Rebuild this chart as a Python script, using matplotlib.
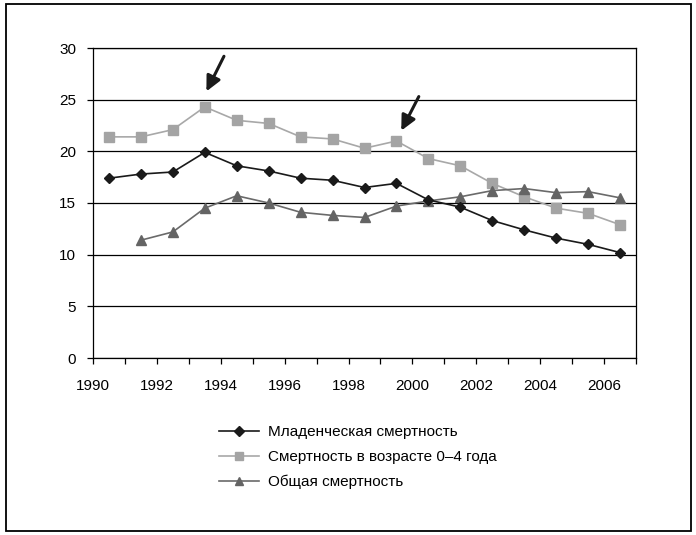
import matplotlib
matplotlib.use('Agg')
from matplotlib import pyplot as plt

plt.rcParams['font.family'] = ['Liberation Sans', 'DejaVu Sans']

# данные
years = [1990.5 + i for i in range(17)]
infant = [17.4, 17.8, 18.0, 19.9, 18.6, 18.1, 17.4, 17.2, 16.5, 16.9,
          15.3, 14.6, 13.3, 12.4, 11.6, 11.0, 10.2]
under5 = [21.4, 21.4, 22.1, 24.3, 23.0, 22.7, 21.4, 21.2, 20.3, 21.0,
          19.3, 18.6, 16.9, 15.6, 14.5, 14.0, 12.9]
years_total = years[1:]
total = [11.4, 12.2, 14.5, 15.7, 15.0, 14.1, 13.8, 13.6, 14.7,
         15.2, 15.6, 16.2, 16.4, 16.0, 16.1, 15.5]

labels = ['Младенческая смертность',
          'Смертность в возрасте 0–4 года',
          'Общая смертность']

# стрелки (кончик, хвост)
arrow_tips = [(1993.55, 25.8), (1999.65, 22.0)]
arrow_tails = [(1994.1, 29.2), (2000.2, 25.3)]

fig = plt.figure(dpi=100, figsize=(6.96, 5.35))
ax = fig.add_axes([93/696, 1 - 358/535, (636 - 93)/696, (358 - 48)/535])

ax.plot(years, infant, c='#1a1a1a', lw=1.2, marker='D', ms=5.5,
        mfc='#1a1a1a', mec='#1a1a1a', label=labels[0], zorder=4)
ax.plot(years, under5, c='#a8a8a8', lw=1.2, marker='s', ms=7.5,
        mfc='#a4a4a4', mec='#a4a4a4', label=labels[1], zorder=3)
ax.plot(years_total, total, c='#6a6a6a', lw=1.2, marker='^', ms=7.5,
        mfc='#646464', mec='#646464', label=labels[2], zorder=3)

for tip, tail in zip(arrow_tips, arrow_tails):
    ax.annotate('', xy=tip, xytext=tail,
                arrowprops=dict(arrowstyle='-|>,head_length=0.45,head_width=0.22',
                                color='#1a1a1a', lw=2.2,
                                mutation_scale=20, shrinkA=0, shrinkB=0))

# оформление
ax.set_xlim(1990, 2007)
ax.set_ylim(0, 30)
ax.set_xticks(range(1990, 2008))
ax.set_xticklabels([str(y) if y % 2 == 0 else '' for y in range(1990, 2008)])
ax.set_yticks(range(0, 31, 5))
ax.yaxis.grid(True, color='black', lw=0.9)
ax.set_axisbelow(True)
for s in ax.spines.values():
    s.set_linewidth(0.9)
ax.tick_params(axis='x', length=4, width=0.9, pad=11, labelsize=11)
ax.tick_params(axis='y', length=4, width=0.9, pad=8, labelsize=11)

fig.legend(loc='upper left', bbox_to_anchor=(219/696, 1 - 425/535),
           frameon=False, fontsize=11, borderpad=0, borderaxespad=0,
           handlelength=2.6, handletextpad=0.6, labelspacing=0.72,
           markerscale=0.85)

fig.add_artist(plt.Rectangle((6/696, 1 - 531/535), 685/696, 527/535,
                             transform=fig.transFigure, fill=False,
                             lw=1.3, ec='black'))

plt.savefig('out.png', dpi=100)
